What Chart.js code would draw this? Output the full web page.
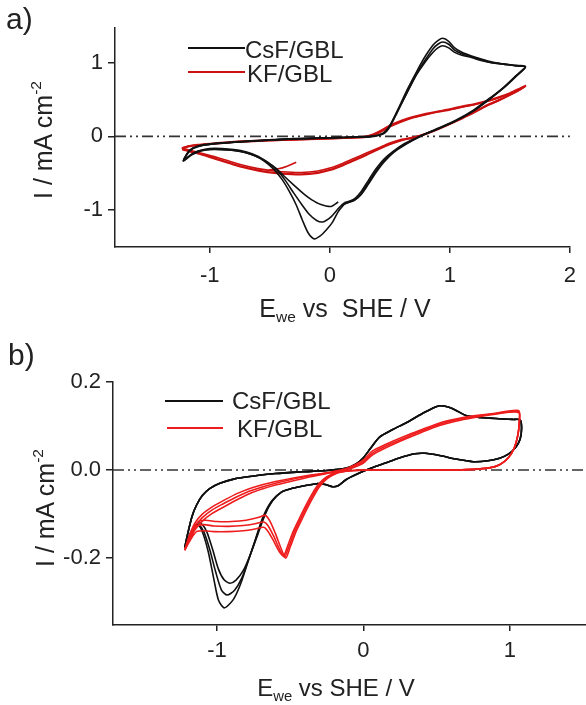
<!DOCTYPE html>
<html>
<head>
<meta charset="utf-8">
<script src="https://cdn.jsdelivr.net/npm/chart.js@4.4.0/dist/chart.umd.min.js"></script>
<style>
  body { margin: 0; background: #fff; }
  #wrap { position: relative; width: 586px; height: 705px; background: #fff; overflow: hidden; }
  canvas { position: absolute; left: 0; }
  .t { position: absolute; font-family: "Liberation Sans", Arial, sans-serif; color: #222; white-space: nowrap; line-height: 1; }
  .mid { transform: translate(-50%, -50%); }
  .left { transform: translate(0, -50%); }
  .rot { transform: translate(-50%, -50%) rotate(-90deg); }
  sub { font-size: 0.62em; vertical-align: -0.3em; }
  sup { font-size: 0.62em; vertical-align: 0.75em; }
  .sw { position: absolute; height: 2px; }
</style>
</head>
<body>
<div id="wrap">
  <canvas id="chartA" width="586" height="340" style="top:0"></canvas>
  <canvas id="chartB" width="586" height="365" style="top:340px"></canvas>

  <div class="t" style="left:6px;top:4px;font-size:30px">a)</div>
  <div class="t rot" style="left:42px;top:140px;font-size:25px">I / mA cm<sup>-2</sup></div>
  <div class="t mid" style="left:345px;top:310px;font-size:25px">E<sub>we</sub> vs&nbsp; SHE / V</div>
  <div class="sw" style="left:188px;top:47px;width:57px;background:#111"></div>
  <div class="t left" style="left:245px;top:50px;font-size:24px">CsF/GBL</div>
  <div class="sw" style="left:188px;top:71px;width:57px;background:#cc1111"></div>
  <div class="t left" style="left:247px;top:74px;font-size:24px">KF/GBL</div>

  <div class="t" style="left:8px;top:340px;font-size:30px">b)</div>
  <div class="t rot" style="left:44px;top:508px;font-size:25px">I / mA cm<sup>-2</sup></div>
  <div class="t mid" style="left:336px;top:690px;font-size:24px">E<sub>we</sub> vs SHE / V</div>
  <div class="sw" style="left:165px;top:400px;width:58px;background:#111"></div>
  <div class="t left" style="left:232px;top:401px;font-size:24px">CsF/GBL</div>
  <div class="sw" style="left:167px;top:427px;width:56px;background:#ee1c1c"></div>
  <div class="t left" style="left:237px;top:429px;font-size:24px">KF/GBL</div>
</div>

<script>
// ---------- panel a) : E (V) , I (mA cm-2) ----------
const xLimA = [-1.79, 2.0]
const yLimA = [-1.50, 1.47]
const xTicksA = [-1, 0, 1, 2]
const yTicksA = [-1, 0, 1]

const csfA1 = [
  [0.07,-0.89],[0.01,-0.95],[-0.08,-0.92],[-0.15,-0.86],[-0.21,-0.79],[-0.3,-0.66],[-0.38,-0.54],[-0.45,-0.43],[-0.52,-0.35],[-0.6,-0.27],[-0.7,-0.21],[-0.8,-0.18],[-0.9,-0.165],[-1.0,-0.165],[-1.08,-0.19],[-1.15,-0.24],[-1.22,-0.33],
  [-1.17,-0.19],[-1.1,-0.13],[-0.96,-0.095],[-0.75,-0.07],[-0.55,-0.05],[-0.3,-0.03],[0.0,-0.02],[0.2,-0.01],[0.35,0.0],[0.44,0.04],[0.49,0.12],[0.55,0.3],[0.64,0.58],[0.72,0.83],[0.79,1.0],[0.86,1.14],[0.9,1.2],[0.94,1.23],[0.99,1.2],[1.04,1.14],[1.1,1.1],[1.18,1.07],[1.26,1.03],[1.35,1.0],[1.45,0.98],[1.55,0.96],[1.63,0.94],
  [1.55,0.82],[1.45,0.67],[1.35,0.54],[1.2,0.36],[1.05,0.22],[0.9,0.11],[0.8,0.04],[0.72,-0.02],[0.62,-0.1],[0.53,-0.2],[0.45,-0.31],[0.38,-0.45],[0.32,-0.6],[0.26,-0.75],[0.21,-0.84],[0.16,-0.88],[0.12,-0.9]
]
const csfA2 = [
  [0.12,-0.9],[0.07,-0.98],[0.01,-1.09],[-0.06,-1.16],[-0.11,-1.14],[-0.17,-1.06],[-0.24,-0.91],[-0.3,-0.77],[-0.37,-0.6],[-0.44,-0.46],[-0.52,-0.35],[-0.6,-0.28],[-0.7,-0.22],[-0.8,-0.19],[-0.9,-0.18],[-1.0,-0.18],[-1.08,-0.2],[-1.15,-0.25],[-1.22,-0.33],
  [-1.17,-0.2],[-1.1,-0.135],[-0.96,-0.1],[-0.75,-0.075],[-0.55,-0.055],[-0.3,-0.035],[0.0,-0.02],[0.2,-0.01],[0.35,0.0],[0.45,0.04],[0.5,0.13],[0.56,0.32],[0.65,0.62],[0.73,0.87],[0.8,1.05],[0.86,1.19],[0.9,1.25],[0.94,1.28],[0.99,1.25],[1.04,1.17],[1.1,1.12],[1.18,1.08],[1.26,1.04],[1.35,1.0],[1.45,0.98],[1.55,0.96],[1.63,0.94],
  [1.55,0.81],[1.45,0.66],[1.35,0.53],[1.2,0.35],[1.05,0.21],[0.9,0.1],[0.8,0.035],[0.72,-0.025],[0.62,-0.11],[0.53,-0.21],[0.45,-0.33],[0.38,-0.48],[0.32,-0.63],[0.26,-0.78],[0.21,-0.86],[0.16,-0.89],[0.12,-0.92]
]
const csfA3 = [
  [0.12,-0.92],[0.07,-1.02],[0.02,-1.17],[-0.03,-1.27],[-0.08,-1.35],[-0.13,-1.39],[-0.18,-1.31],[-0.23,-1.13],[-0.28,-0.93],[-0.34,-0.74],[-0.4,-0.58],[-0.47,-0.44],[-0.55,-0.33],[-0.63,-0.26],[-0.72,-0.21],[-0.85,-0.18],[-1.0,-0.175],[-1.1,-0.2],[-1.16,-0.25],[-1.22,-0.33],
  [-1.17,-0.2],[-1.1,-0.14],[-0.96,-0.1],[-0.75,-0.075],[-0.55,-0.055],[-0.3,-0.035],[0.0,-0.02],[0.2,-0.01],[0.35,0.0],[0.45,0.045],[0.5,0.14],[0.56,0.34],[0.65,0.65],[0.73,0.9],[0.8,1.1],[0.86,1.24],[0.9,1.3],[0.94,1.33],[0.99,1.29],[1.04,1.2],[1.1,1.14],[1.18,1.09],[1.26,1.05],[1.35,1.01],[1.45,0.98],[1.55,0.96],[1.63,0.95],
  [1.55,0.82],[1.45,0.66],[1.35,0.53],[1.2,0.35],[1.05,0.21],[0.9,0.1],[0.8,0.035],[0.72,-0.03],[0.62,-0.12],[0.53,-0.22],[0.45,-0.35],[0.38,-0.5],[0.32,-0.65],[0.26,-0.79],[0.2,-0.87],[0.15,-0.9],[0.1,-0.93]
]

const kfA1 = [
  [-0.28,-0.35],[-0.35,-0.4],[-0.43,-0.44],[-0.52,-0.455],[-0.65,-0.42],[-0.79,-0.36],[-0.93,-0.29],[-1.07,-0.23],[-1.16,-0.19],[-1.23,-0.16],
  [-1.18,-0.13],[-1.1,-0.11],[-0.95,-0.09],[-0.8,-0.07],[-0.6,-0.055],[-0.4,-0.045],[-0.2,-0.035],[0.0,-0.025],[0.15,-0.015],[0.3,0.0],[0.4,0.06],[0.5,0.15],[0.6,0.22],[0.7,0.27],[0.8,0.31],[0.9,0.34],[1.0,0.37],[1.1,0.41],[1.2,0.44],[1.3,0.48],[1.4,0.53],[1.5,0.59],[1.58,0.65],[1.63,0.69],
  [1.58,0.64],[1.5,0.57],[1.4,0.49],[1.3,0.42],[1.2,0.33],[1.1,0.25],[1.0,0.17],[0.9,0.1],[0.8,0.04],[0.7,-0.01],[0.6,-0.04],[0.5,-0.09],[0.4,-0.16],[0.3,-0.23],[0.2,-0.3],[0.1,-0.37],[0.0,-0.43],[-0.1,-0.47],[-0.24,-0.49],[-0.4,-0.48],[-0.52,-0.46],[-0.65,-0.42],[-0.79,-0.36],[-0.93,-0.29],[-1.07,-0.23],[-1.16,-0.19],[-1.23,-0.16]
]
const kfA2 = [
  [-1.23,-0.16],[-1.18,-0.135],[-1.1,-0.115],[-0.95,-0.095],[-0.8,-0.075],[-0.6,-0.06],[-0.4,-0.05],[-0.2,-0.04],[0.0,-0.03],[0.15,-0.02],[0.3,-0.005],[0.4,0.05],[0.5,0.14],[0.6,0.21],[0.7,0.26],[0.8,0.3],[0.9,0.335],[1.0,0.365],[1.1,0.4],[1.2,0.43],[1.3,0.47],[1.4,0.52],[1.5,0.58],[1.58,0.64],[1.63,0.68],
  [1.58,0.63],[1.5,0.56],[1.4,0.48],[1.3,0.41],[1.2,0.33],[1.1,0.25],[1.0,0.17],[0.9,0.1],[0.8,0.035],[0.7,-0.015],[0.6,-0.05],[0.5,-0.1],[0.4,-0.17],[0.3,-0.25],[0.2,-0.32],[0.1,-0.39],[0.0,-0.45],[-0.1,-0.49],[-0.24,-0.51],[-0.4,-0.5],[-0.52,-0.48],[-0.65,-0.44],[-0.79,-0.38],[-0.93,-0.31],[-1.07,-0.24],[-1.16,-0.2],[-1.23,-0.17]
]
const kfA3 = [
  [-1.23,-0.17],[-1.18,-0.14],[-1.1,-0.12],[-0.95,-0.1],[-0.8,-0.08],[-0.6,-0.065],[-0.4,-0.052],[-0.2,-0.042],[0.0,-0.032],[0.15,-0.022],[0.3,-0.01],[0.4,0.04],[0.5,0.13],[0.6,0.2],[0.7,0.255],[0.8,0.295],[0.9,0.33],[1.0,0.36],[1.1,0.395],[1.2,0.43],[1.3,0.47],[1.4,0.52],[1.5,0.58],[1.58,0.64],[1.63,0.68],
  [1.58,0.63],[1.5,0.56],[1.4,0.48],[1.3,0.41],[1.2,0.32],[1.1,0.24],[1.0,0.165],[0.9,0.095],[0.8,0.03],[0.7,-0.02],[0.6,-0.055],[0.5,-0.11],[0.4,-0.18],[0.3,-0.26],[0.2,-0.33],[0.1,-0.4],[0.0,-0.46],[-0.1,-0.5],[-0.24,-0.52],[-0.4,-0.51],[-0.52,-0.49],[-0.65,-0.45],[-0.79,-0.39],[-0.93,-0.32],[-1.07,-0.25],[-1.16,-0.21],[-1.23,-0.18]
]

// ---------- panel b) ----------
const xLimB = [-1.71, 1.52]
const yLimB = [-0.352, 0.2]
const xTicksB = [-1, 0, 1]
const yTicksB = [-0.2, 0.0, 0.2]

const csfBAnodic = [
  [-1.22,-0.176],[-1.2,-0.145],[-1.17,-0.105],[-1.14,-0.08],[-1.1,-0.058],[-1.05,-0.042],[-0.98,-0.03],[-0.88,-0.02],[-0.76,-0.014],[-0.6,-0.008],[-0.42,-0.004],[-0.25,-0.001],[-0.12,0.004],[-0.05,0.014],[0.0,0.028],[0.05,0.05],[0.11,0.075],[0.2,0.092],[0.29,0.107],[0.4,0.128],[0.47,0.14],[0.52,0.146],[0.58,0.143],[0.63,0.136],[0.7,0.124],[0.78,0.12],[0.86,0.118],[0.95,0.116],[1.02,0.115],[1.07,0.114]
]
const csfBReturn = [
  [1.08,0.095],[1.07,0.07],[1.04,0.052],[0.99,0.036],[0.93,0.027],[0.85,0.021],[0.75,0.019],[0.63,0.025],[0.52,0.033],[0.42,0.038],[0.35,0.037],[0.25,0.028],[0.15,0.016],[0.05,0.004],[-0.05,-0.01],[-0.12,-0.022],[-0.17,-0.035],[-0.21,-0.038],[-0.26,-0.033],[-0.32,-0.031],[-0.42,-0.037],[-0.5,-0.043],[-0.56,-0.05]
]
const csfBPeak1 = [[-0.62,-0.068],[-0.67,-0.1],[-0.72,-0.145],[-0.77,-0.19],[-0.82,-0.228],[-0.87,-0.25],[-0.91,-0.257],[-0.95,-0.25],[-0.99,-0.225],[-1.03,-0.18],[-1.07,-0.14],[-1.1,-0.124],[-1.13,-0.12],[-1.17,-0.14],[-1.22,-0.176]]
const csfBPeak2 = [[-0.62,-0.07],[-0.68,-0.105],[-0.73,-0.152],[-0.78,-0.2],[-0.83,-0.245],[-0.88,-0.273],[-0.93,-0.284],[-0.97,-0.272],[-1.01,-0.23],[-1.05,-0.18],[-1.09,-0.14],[-1.12,-0.126],[-1.15,-0.125],[-1.18,-0.145],[-1.22,-0.176]]
const csfBPeak3 = [[-0.63,-0.072],[-0.69,-0.11],[-0.74,-0.16],[-0.79,-0.21],[-0.84,-0.26],[-0.89,-0.295],[-0.95,-0.313],[-0.99,-0.295],[-1.02,-0.25],[-1.06,-0.185],[-1.1,-0.14],[-1.13,-0.125],[-1.16,-0.13],[-1.19,-0.15],[-1.22,-0.176]]

const kfBAnodic1 = [[-1.22,-0.182],[-1.19,-0.15],[-1.15,-0.12],[-1.1,-0.1],[-1.03,-0.083],[-0.96,-0.07],[-0.86,-0.053],[-0.76,-0.04],[-0.6,-0.026],[-0.41,-0.014],[-0.25,-0.006],[-0.12,0.003],[-0.05,0.013],[0.0,0.023],[0.06,0.043],[0.15,0.058],[0.29,0.078],[0.4,0.092],[0.52,0.107],[0.63,0.116],[0.75,0.123],[0.9,0.129],[1.06,0.135]]
const kfBAnodic2 = [[-1.22,-0.182],[-1.19,-0.155],[-1.15,-0.128],[-1.1,-0.108],[-1.03,-0.09],[-0.96,-0.077],[-0.86,-0.06],[-0.76,-0.046],[-0.6,-0.03],[-0.41,-0.016],[-0.25,-0.007],[-0.12,0.001],[-0.05,0.01],[0.0,0.019],[0.06,0.038],[0.15,0.054],[0.29,0.074],[0.4,0.089],[0.52,0.104],[0.63,0.114],[0.75,0.121],[0.9,0.128],[1.06,0.133]]
const kfBAnodic3 = [[-1.22,-0.182],[-1.19,-0.16],[-1.15,-0.136],[-1.1,-0.116],[-1.03,-0.098],[-0.96,-0.085],[-0.86,-0.067],[-0.76,-0.051],[-0.6,-0.034],[-0.41,-0.019],[-0.25,-0.008],[-0.12,0.0],[-0.05,0.008],[0.0,0.016],[0.06,0.034],[0.15,0.05],[0.29,0.071],[0.4,0.086],[0.52,0.101],[0.63,0.111],[0.75,0.119],[0.9,0.127],[1.06,0.131]]
const kfBReturn1 = [
  [1.065,0.11],[1.055,0.08],[1.03,0.05],[0.99,0.028],[0.93,0.012],[0.86,0.005],[0.7,0.001],[0.52,0.0],[0.3,0.0],[0.06,0.0],[-0.06,-0.001],[-0.14,-0.004],[-0.2,-0.01],[-0.25,-0.02],[-0.3,-0.038],[-0.34,-0.06],[-0.38,-0.085],[-0.42,-0.112],[-0.46,-0.14],[-0.5,-0.175],[-0.53,-0.2]
]
const kfBReturn2 = [
  [1.065,0.11],[1.055,0.08],[1.03,0.05],[0.99,0.028],[0.93,0.012],[0.86,0.005],[0.7,0.001],[0.52,0.0],[0.3,0.0],[0.06,0.0],[-0.06,-0.001],[-0.15,-0.004],[-0.21,-0.01],[-0.26,-0.02],[-0.31,-0.038],[-0.35,-0.06],[-0.39,-0.085],[-0.43,-0.112],[-0.47,-0.14],[-0.51,-0.175],[-0.54,-0.198]
]
const kfBReturn3 = [
  [1.065,0.11],[1.055,0.08],[1.03,0.05],[0.99,0.028],[0.93,0.012],[0.86,0.005],[0.7,0.001],[0.52,0.0],[0.3,0.0],[0.06,0.0],[-0.07,-0.001],[-0.16,-0.004],[-0.22,-0.01],[-0.27,-0.02],[-0.32,-0.038],[-0.36,-0.06],[-0.4,-0.085],[-0.44,-0.112],[-0.48,-0.14],[-0.52,-0.175],[-0.545,-0.195]
]
const kfBPeak1 = [[-0.56,-0.18],[-0.6,-0.145],[-0.64,-0.115],[-0.67,-0.103],[-0.72,-0.108],[-0.8,-0.114],[-0.9,-0.117],[-1.0,-0.117],[-1.08,-0.114],[-1.13,-0.118],[-1.17,-0.14],[-1.22,-0.182]]
const kfBPeak2 = [[-0.57,-0.182],[-0.61,-0.152],[-0.65,-0.127],[-0.68,-0.118],[-0.74,-0.122],[-0.82,-0.126],[-0.92,-0.128],[-1.02,-0.127],[-1.09,-0.124],[-1.14,-0.128],[-1.18,-0.15],[-1.22,-0.182]]
const kfBPeak3 = [[-0.575,-0.185],[-0.615,-0.16],[-0.65,-0.14],[-0.68,-0.13],[-0.74,-0.134],[-0.82,-0.138],[-0.92,-0.14],[-1.02,-0.14],[-1.09,-0.138],[-1.14,-0.14],[-1.18,-0.158],[-1.22,-0.182]]

const zeroLevel = 0

// ---------- drawing ----------
const BLACK = '#111111'
const RED_A = '#cc1111'
const RED_B = '#ee1c1c'
const FONT = 'Liberation Sans, Arial, sans-serif'

let toPts = (arr) => arr.map(p => ({ x: p[0], y: p[1] }))

let curve = (arr, color) => ({
  data: toPts(arr),
  showLine: true,
  borderColor: color,
  borderWidth: 1.6,
  pointRadius: 0,
  tension: 0.25,
  fill: false
})

let zeroLine = (xLim) => ({
  data: [{ x: xLim[0], y: zeroLevel }, { x: xLim[1], y: zeroLevel }],
  showLine: true,
  borderColor: '#333333',
  borderWidth: 1.6,
  borderDash: [11, 4, 2, 4, 2, 4],
  pointRadius: 0,
  tension: 0
})

let makeOptions = (p) => ({
  responsive: false,
  animation: false,
  layout: { padding: { left: 0, top: p.top, right: p.right, bottom: 0 } },
  plugins: { legend: { display: false }, tooltip: { enabled: false } },
  scales: {
    x: {
      type: 'linear', min: p.xLim[0], max: p.xLim[1],
      afterBuildTicks: (s) => { s.ticks = p.xTicks.map(v => ({ value: v })) },
      afterFit: (s) => { s.height = p.xHeight },
      grid: { drawOnChartArea: false, drawTicks: true, tickLength: 6, color: '#222', lineWidth: 1.5 },
      border: { display: true, color: '#222', width: 1.5 },
      ticks: { color: '#222', padding: p.xPad, font: { family: FONT, size: 22 }, maxRotation: 0,
               callback: (v) => String(v) }
    },
    y: {
      type: 'linear', min: p.yLim[0], max: p.yLim[1],
      afterBuildTicks: (s) => { s.ticks = p.yTicks.map(v => ({ value: v })) },
      afterFit: (s) => { s.width = p.yWidth },
      grid: { drawOnChartArea: false, drawTicks: true, tickLength: 7, color: '#222', lineWidth: 1.5 },
      border: { display: true, color: '#222', width: 1.5 },
      ticks: { color: '#222', padding: 5, font: { family: FONT, size: 22 },
               callback: (v) => p.yFmt(v) }
    }
  }
})

let plot = () => {
  const dataA = {
    datasets: [
      curve(csfA1, BLACK), curve(csfA2, BLACK), curve(csfA3, BLACK),
      curve(kfA1, RED_A), curve(kfA2, RED_A), curve(kfA3, RED_A),
      zeroLine(xLimA)
    ]
  }
  new Chart(document.getElementById('chartA'), {
    type: 'scatter',
    data: dataA,
    options: makeOptions({ xLim: xLimA, yLim: yLimA, xTicks: xTicksA, yTicks: yTicksA,
      top: 28, right: 9, xHeight: 93, yWidth: 115, xPad: 10, yFmt: (v) => String(v) })
  })

  const dataB = {
    datasets: [
      curve(kfBAnodic1.concat(kfBReturn1, kfBPeak1), RED_B),
      curve(kfBAnodic2.concat(kfBReturn2, kfBPeak2), RED_B),
      curve(kfBAnodic3.concat(kfBReturn3, kfBPeak3), RED_B),
      curve(csfBAnodic.concat(csfBReturn, csfBPeak1), BLACK),
      curve(csfBAnodic.concat(csfBReturn, csfBPeak2), BLACK),
      curve(csfBAnodic.concat(csfBReturn, csfBPeak3), BLACK),
      zeroLine(xLimB)
    ]
  }
  new Chart(document.getElementById('chartB'), {
    type: 'scatter',
    data: dataB,
    options: makeOptions({ xLim: xLimB, yLim: yLimB, xTicks: xTicksB, yTicks: yTicksB,
      top: 42, right: 0, xHeight: 80, yWidth: 113, xPad: 7, yFmt: (v) => v.toFixed(1) })
  })
}

plot()
</script>
</body>
</html>
